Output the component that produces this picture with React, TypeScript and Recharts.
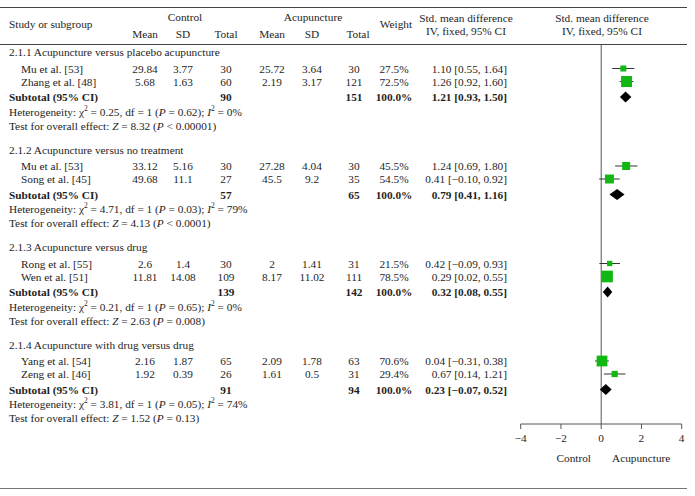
import React from 'react';
import { ScatterChart, Scatter, XAxis, YAxis, ReferenceLine } from 'recharts';

// ---------- data ----------
const groupTitles = [
  '2.1.1 Acupuncture versus placebo acupuncture',
  '2.1.2 Acupuncture versus no treatment',
  '2.1.3 Acupuncture versus drug',
  '2.1.4 Acupuncture with drug versus drug',
];
const studyNames = [
  'Mu et al. [53]', 'Zhang et al. [48]',
  'Mu et al. [53]', 'Song et al. [45]',
  'Rong et al. [55]', 'Wen et al. [51]',
  'Yang et al. [54]', 'Zeng et al. [46]',
];
const studyGroup = [0, 0, 1, 1, 2, 2, 3, 3];
const controlMean = ['29.84', '5.68', '33.12', '49.68', '2.6', '11.81', '2.16', '1.92'];
const controlSD = ['3.77', '1.63', '5.16', '11.1', '1.4', '14.08', '1.87', '0.39'];
const controlN = [30, 60, 30, 27, 30, 109, 65, 26];
const acuMean = ['25.72', '2.19', '27.28', '45.5', '2', '8.17', '2.09', '1.61'];
const acuSD = ['3.64', '3.17', '4.04', '9.2', '1.41', '11.02', '1.78', '0.5'];
const acuN = [30, 121, 30, 35, 31, 111, 63, 31];
const studyWeight = [27.5, 72.5, 45.5, 54.5, 21.5, 78.5, 70.6, 29.4];
const studySmd = [1.10, 1.26, 1.24, 0.41, 0.42, 0.29, 0.04, 0.67];
const studyLo = [0.55, 0.92, 0.69, -0.10, -0.09, 0.02, -0.31, 0.14];
const studyHi = [1.64, 1.60, 1.80, 0.92, 0.93, 0.55, 0.38, 1.21];

const subControlN = [90, 57, 139, 91];
const subAcuN = [151, 65, 142, 94];
const subSmd = [1.21, 0.79, 0.32, 0.23];
const subLo = [0.93, 0.41, 0.08, -0.07];
const subHi = [1.50, 1.16, 0.55, 0.52];
const hetChi2 = ['0.25', '4.71', '0.21', '3.81'];
const hetP = ['0.62', '0.03', '0.65', '0.05'];
const hetI2 = ['0', '79', '0', '74'];
const zValue = ['8.32', '4.13', '2.63', '1.52'];
const zP = ['< 0.00001', '< 0.0001', '= 0.008', '= 0.13'];

const xTicks = [-4, -2, 0, 2, 4];

// ---------- layout ----------
const W = 695;
const H = 496;
const PLOT_TOP = 45;
const PLOT_BOTTOM = 424;
const PLOT_LEFT = 520.7;
const PLOT_RIGHT = 681.7;
const X_AXIS_H = 30;
const FONT = '"Liberation Serif", "Times New Roman", serif';
const FS = 11.3;
const GREEN = '#12b812';
const INK = '#1e1e1e';

// row positions in y-axis units (1 unit = 1px below header line)
const SEC0 = 7;
const SEC_STEP = 97.5;
const rowPos = (g: number, off: number) => SEC0 + g * SEC_STEP + off;
const OFF_STUDY0 = 16.5;
const OFF_STUDY_STEP = 13;
const OFF_SUB = 45;
const OFF_HET = 59.5;
const OFF_TEST = 73.5;

const studyIdxInGroup = studyGroup.map((g, i) => studyGroup.slice(0, i).filter((x) => x === g).length);
const studyY = studyGroup.map((g, i) => rowPos(g, OFF_STUDY0 + OFF_STUDY_STEP * studyIdxInGroup[i]));

const fmt = (v: number) => (v < 0 ? '\u2212' + Math.abs(v).toFixed(2) : v.toFixed(2));
const ciText = (m: number, lo: number, hi: number) => `${fmt(m)} [${fmt(lo)}, ${fmt(hi)}]`;

const COL = {
  cMean: 145,
  cSD: 183,
  cN: 226,
  aMean: 272,
  aSD: 312,
  aN: 354,
  weight: 394,
  ciEnd: 507,
  nameX: 21,
  leftX: 9,
};

const studyData = studySmd.map((x, i) => ({ x, y: studyY[i], w: studyWeight[i] }));

const Square = (p: any) => {
  const s = 3 + (11 * p.payload.w) / 100;
  return <rect x={p.cx - s / 2} y={p.cy - s / 2} width={s} height={s} fill={GREEN} />;
};

const T = (props: any) => (
  <text
    fontFamily={FONT}
    fontSize={FS}
    fill={INK}
    dominantBaseline="central"
    {...props}
  />
);

const pageY = (pos: number) => PLOT_TOP + pos;

const Table = () => {
  const els: any[] = [];
  groupTitles.forEach((title, g) => {
    els.push(<T key={`gt${g}`} x={COL.leftX} y={pageY(rowPos(g, 0))}>{title}</T>);
    const subY = pageY(rowPos(g, OFF_SUB));
    els.push(<T key={`st${g}`} x={COL.leftX} y={subY} fontWeight="bold">Subtotal (95% CI)</T>);
    els.push(<T key={`sc${g}`} x={COL.cN} y={subY} fontWeight="bold" textAnchor="middle">{subControlN[g]}</T>);
    els.push(<T key={`sa${g}`} x={COL.aN} y={subY} fontWeight="bold" textAnchor="middle">{subAcuN[g]}</T>);
    els.push(<T key={`sw${g}`} x={COL.weight} y={subY} fontWeight="bold" textAnchor="middle">100.0%</T>);
    els.push(
      <T key={`sci${g}`} x={COL.ciEnd} y={subY} fontWeight="bold" textAnchor="end">
        {ciText(subSmd[g], subLo[g], subHi[g])}
      </T>
    );
    els.push(
      <T key={`het${g}`} x={COL.leftX} y={pageY(rowPos(g, OFF_HET))}>
        Heterogeneity: {'\u03c7'}
        <tspan fontSize={7.5} dy={-4}>2</tspan>
        <tspan dy={4}>{` = ${hetChi2[g]}, df = 1 (`}</tspan>
        <tspan fontStyle="italic">P</tspan>
        {` = ${hetP[g]}); `}
        <tspan fontStyle="italic">I</tspan>
        <tspan fontSize={7.5} dy={-4}>2</tspan>
        <tspan dy={4}>{` = ${hetI2[g]}%`}</tspan>
      </T>
    );
    els.push(
      <T key={`test${g}`} x={COL.leftX} y={pageY(rowPos(g, OFF_TEST))}>
        {g >= 2 ? 'Test for overall effect:  ' : 'Test for overall effect: '}
        <tspan fontStyle="italic">Z</tspan>
        {` = ${zValue[g]} (`}
        <tspan fontStyle="italic">P</tspan>
        {` ${zP[g]})`}
      </T>
    );
  });
  studyNames.forEach((name, i) => {
    const y = pageY(studyY[i]);
    els.push(<T key={`n${i}`} x={COL.nameX} y={y}>{name}</T>);
    els.push(<T key={`cm${i}`} x={COL.cMean} y={y} textAnchor="middle">{controlMean[i]}</T>);
    els.push(<T key={`cs${i}`} x={COL.cSD} y={y} textAnchor="middle">{controlSD[i]}</T>);
    els.push(<T key={`cn${i}`} x={COL.cN} y={y} textAnchor="middle">{controlN[i]}</T>);
    els.push(<T key={`am${i}`} x={COL.aMean} y={y} textAnchor="middle">{acuMean[i]}</T>);
    els.push(<T key={`as${i}`} x={COL.aSD} y={y} textAnchor="middle">{acuSD[i]}</T>);
    els.push(<T key={`an${i}`} x={COL.aN} y={y} textAnchor="middle">{acuN[i]}</T>);
    els.push(<T key={`w${i}`} x={COL.weight} y={y} textAnchor="middle">{studyWeight[i].toFixed(1)}%</T>);
    els.push(<T key={`ci${i}`} x={COL.ciEnd} y={y} textAnchor="end">{ciText(studySmd[i], studyLo[i], studyHi[i])}</T>);
  });
  return (
    <svg width={W} height={H} style={{ position: 'absolute', left: 0, top: 0 }}>
      <line x1={0} x2={687} y1={7.5} y2={7.5} stroke="#444" strokeWidth={1} />
      <line x1={0} x2={687} y1={PLOT_TOP - 0.5} y2={PLOT_TOP - 0.5} stroke="#444" strokeWidth={1} />
      <line x1={0} x2={687} y1={488.5} y2={488.5} stroke="#777" strokeWidth={1} />
      <T x={COL.leftX} y={24}>Study or subgroup</T>
      <T x={185} y={17} textAnchor="middle">Control</T>
      <T x={313} y={17} textAnchor="middle">Acupuncture</T>
      <T x={COL.cMean} y={34} textAnchor="middle">Mean</T>
      <T x={COL.cSD} y={34} textAnchor="middle">SD</T>
      <T x={COL.cN} y={34} textAnchor="middle">Total</T>
      <T x={COL.aMean} y={34} textAnchor="middle">Mean</T>
      <T x={COL.aSD} y={34} textAnchor="middle">SD</T>
      <T x={COL.aN + 4} y={34} textAnchor="middle">Total</T>
      <T x={396} y={24} textAnchor="middle">Weight</T>
      <T x={466} y={18} textAnchor="middle">Std. mean difference</T>
      <T x={466} y={31} textAnchor="middle">IV, fixed, 95% CI</T>
      <T x={602} y={18} textAnchor="middle">Std. mean difference</T>
      <T x={602} y={31} textAnchor="middle">IV, fixed, 95% CI</T>
      <T x={591} y={458} textAnchor="end">Control</T>
      <T x={612} y={458} textAnchor="start">Acupuncture</T>
      {els}
    </svg>
  );
};

const tickFmt = (v: number) => (v < 0 ? '\u2212' + Math.abs(v) : String(v));

export default function App() {
  return (
    <div style={{ position: 'absolute', left: 0, top: 0, width: W, height: H, background: '#fff' }}>
      <Table />
      <div style={{ position: 'absolute', left: 0, top: 0 }}>
        <ScatterChart
          width={W}
          height={H}
          margin={{
            top: PLOT_TOP,
            bottom: H - PLOT_BOTTOM - X_AXIS_H,
            left: PLOT_LEFT,
            right: W - PLOT_RIGHT,
          }}
        >
          <XAxis
            type="number"
            dataKey="x"
            domain={[-4, 4]}
            ticks={xTicks}
            height={X_AXIS_H}
            tickFormatter={tickFmt}
            stroke="#555"
            tickSize={5}
            tickMargin={5}
            tick={{ fontFamily: FONT, fontSize: FS, fill: INK }}
            allowDataOverflow
          />
          <YAxis type="number" dataKey="y" domain={[0, PLOT_BOTTOM - PLOT_TOP]} reversed hide allowDataOverflow />
          <ReferenceLine x={0} stroke="#555" strokeWidth={1} />
          {studySmd.map((_, i) => (
            <ReferenceLine
              key={`wh${i}`}
              segment={[
                { x: studyLo[i], y: studyY[i] },
                { x: studyHi[i], y: studyY[i] },
              ]}
              stroke="#333"
              strokeWidth={1}
              ifOverflow="visible"
            />
          ))}
          {subSmd.map((m, g) => {
            const y = rowPos(g, OFF_SUB);
            return (
              <ReferenceLine
                key={`dm${g}`}
                segment={[
                  { x: subLo[g], y },
                  { x: subHi[g], y },
                ]}
                ifOverflow="visible"
                shape={(p: any) => {
                  const xm = p.x1 + ((m - subLo[g]) / (subHi[g] - subLo[g])) * (p.x2 - p.x1);
                  const h = 5.5;
                  return (
                    <polygon
                      points={`${p.x1},${p.y1} ${xm},${p.y1 - h} ${p.x2},${p.y2} ${xm},${p.y1 + h}`}
                      fill="#000"
                    />
                  );
                }}
              />
            );
          })}
          <Scatter data={studyData} shape={Square} isAnimationActive={false} />
        </ScatterChart>
      </div>
    </div>
  );
}
